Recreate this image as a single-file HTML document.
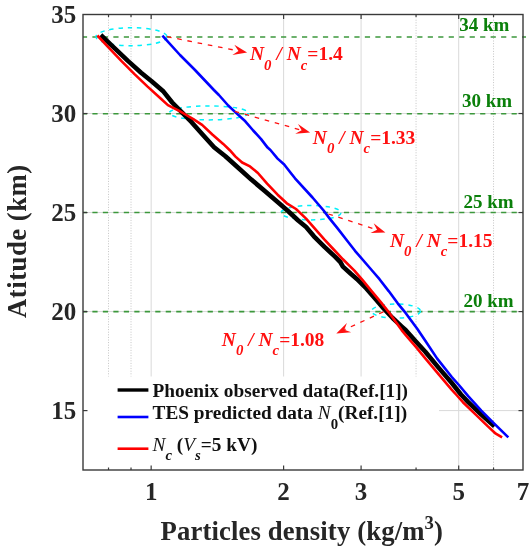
<!DOCTYPE html>
<html><head><meta charset="utf-8"><title>Particles density vs Altitude</title>
<style>
html,body{margin:0;padding:0;background:#fff;}
svg{display:block;font-family:"Liberation Serif","DejaVu Serif",serif;font-weight:bold;}
.tk{font-size:25px;fill:#262626;}
.ax{font-size:26.7px;fill:#262626;}
.g{font-size:19px;fill:#0b800b;}
.r{font-size:19.5px;fill:#ff1010;}
.lg{font-size:19.3px;fill:#111;}
.i{font-style:italic;}
.n{font-weight:normal;font-style:italic;}
.s{font-size:14.8px;}
#wrap{width:532px;height:553px;will-change:transform;overflow:hidden;}
</style></head><body>
<div id="wrap">
<svg width="532" height="553" viewBox="0 0 532 553">
<rect width="532" height="553" fill="#fff"/>

<g stroke="#d9d9d9" stroke-width="1" fill="none">
<line x1="151.16" y1="14.5" x2="151.16" y2="470.0"/>
<line x1="283.61" y1="14.5" x2="283.61" y2="470.0"/>
<line x1="361.09" y1="14.5" x2="361.09" y2="470.0"/>
<line x1="458.70" y1="14.5" x2="458.70" y2="470.0"/>
<line x1="83.0" y1="410.59" x2="523.0" y2="410.59"/>
<line x1="83.0" y1="311.57" x2="523.0" y2="311.57"/>
<line x1="83.0" y1="212.54" x2="523.0" y2="212.54"/>
<line x1="83.0" y1="113.52" x2="523.0" y2="113.52"/>
</g>
<g stroke="#c4c4c4" stroke-width="1" stroke-dasharray="1 1.6" fill="none">
<line x1="108.52" y1="14.5" x2="108.52" y2="470.0"/>
<line x1="131.02" y1="14.5" x2="131.02" y2="470.0"/>
<line x1="416.06" y1="14.5" x2="416.06" y2="470.0"/>
<line x1="493.54" y1="14.5" x2="493.54" y2="470.0"/>
</g>
<rect x="84" y="376.5" width="355" height="92.5" fill="#fff"/>
<g stroke="#3c983c" stroke-width="1.6" stroke-dasharray="5.2 5.28" stroke-dashoffset="1.1" fill="none">
<line x1="83.0" y1="37" x2="526" y2="37"/>
<line x1="83.0" y1="113.8" x2="523.0" y2="113.8"/>
<line x1="83.0" y1="212.5" x2="523.0" y2="212.5"/>
<line x1="83.0" y1="311.6" x2="523.0" y2="311.6"/>
</g>
<g stroke="#00f0fa" stroke-width="1.5" stroke-dasharray="4.4 4.8" fill="none">
<ellipse cx="131.5" cy="36.75" rx="35.5" ry="9"/>
<ellipse cx="208.8" cy="112.9" rx="39.5" ry="7"/>
<ellipse cx="311" cy="212.7" rx="30" ry="7.2"/>
<ellipse cx="396" cy="311.1" rx="24.5" ry="7.1"/>
</g>
<path d="M100.70,35.00 L114.50,48.10 L127.90,60.90 L141.10,72.80 L151.60,81.20 L163.50,91.60 L172.20,102.50 L181.20,111.70 L191.60,122.20 L202.10,134.10 L214.10,147.20 L225.40,156.20 L238.20,167.80 L251.30,179.60 L264.50,190.80 L277.60,202.00 L288.00,211.00 L298.20,220.50 L306.10,227.10 L313.90,236.30 L324.50,246.80 L335.00,256.70 L340.30,262.00 L342.90,266.60 L350.80,273.80 L357.10,279.20 L366.30,288.40 L375.50,298.90 L383.40,308.20 L392.60,318.00 L401.80,326.60 L405.60,330.00 L416.10,341.80 L425.30,351.70 L438.50,367.60 L451.60,382.80 L461.00,394.50 L468.20,402.10 L481.30,414.60 L494.50,426.40" stroke="#000" stroke-width="4.6" fill="none" stroke-linejoin="round"/>
<path d="M162.40,35.60 L180.00,55.00 L195.00,70.00 L213.90,90.00 L218.90,95.00 L228.20,105.50 L237.40,114.10 L245.30,121.30 L253.20,130.50 L261.10,139.10 L267.60,147.60 L270.40,150.00 L277.60,158.60 L284.20,164.50 L290.80,173.00 L295.00,178.30 L312.50,197.50 L323.20,210.00 L329.70,218.60 L337.60,228.40 L346.80,240.30 L355.00,250.80 L371.60,270.00 L379.50,279.20 L388.70,291.10 L397.90,303.60 L405.80,313.20 L410.00,319.00 L417.40,329.00 L425.30,340.80 L437.20,358.60 L451.60,376.80 L458.90,385.00 L468.20,396.20 L481.30,410.70 L494.50,423.80 L508.30,437.40" stroke="#0000ff" stroke-width="2.6" fill="none" stroke-linejoin="round"/>
<path d="M97.40,35.50 L108.20,47.10 L121.30,60.90 L134.50,74.10 L147.60,86.60 L160.40,98.20 L167.90,105.10 L173.20,107.80 L179.70,111.10 L186.30,115.00 L192.90,118.90 L202.10,124.90 L212.60,134.70 L223.20,143.90 L229.80,150.20 L235.50,156.60 L242.10,162.50 L250.00,166.40 L257.90,173.00 L267.10,183.60 L277.60,194.70 L286.80,203.30 L296.00,209.00 L306.10,218.60 L315.30,229.10 L324.50,239.60 L333.70,249.50 L342.90,259.30 L354.40,270.60 L362.40,279.90 L371.60,291.10 L380.80,302.20 L388.70,312.10 L395.30,321.30 L401.80,330.30 L408.30,338.20 L416.10,347.20 L425.30,358.40 L438.50,374.20 L451.60,389.60 L456.50,395.00 L462.90,402.20 L474.70,413.60 L487.90,426.40 L495.80,433.70 L502.10,437.40" stroke="#ff0000" stroke-width="2.6" fill="none" stroke-linejoin="round"/>
<line x1="167" y1="36.7" x2="238.47" y2="50.89" stroke="#ff1010" stroke-width="1.3" stroke-dasharray="4.6 5.8"/><polygon points="247.10,52.60 232.37,54.88 238.47,50.89 234.36,44.87" fill="#ff1010"/>
<line x1="234.7" y1="111.4" x2="301.63" y2="130.22" stroke="#ff1010" stroke-width="1.3" stroke-dasharray="4.6 5.8"/><polygon points="310.10,132.60 295.24,133.72 301.63,130.22 298.00,123.90" fill="#ff1010"/>
<line x1="328.4" y1="214" x2="377.03" y2="229.78" stroke="#ff1010" stroke-width="1.3" stroke-dasharray="4.6 5.8"/><polygon points="385.40,232.50 370.51,233.03 377.03,229.78 373.66,223.33" fill="#ff1010"/>
<line x1="383.4" y1="311.8" x2="344.30" y2="329.73" stroke="#ff1010" stroke-width="1.3" stroke-dasharray="4.6 5.8"/><polygon points="336.30,333.40 346.90,322.93 344.30,329.73 351.15,332.20" fill="#ff1010"/>
<rect x="83.0" y="14.5" width="440.0" height="455.5" fill="none" stroke="#3a3a3a" stroke-width="1.4"/>
<g stroke="#3a3a3a" stroke-width="1.2">
<line x1="151.16" y1="470.0" x2="151.16" y2="465.5"/><line x1="151.16" y1="14.5" x2="151.16" y2="19.0"/>
<line x1="283.61" y1="470.0" x2="283.61" y2="465.5"/><line x1="283.61" y1="14.5" x2="283.61" y2="19.0"/>
<line x1="361.09" y1="470.0" x2="361.09" y2="465.5"/><line x1="361.09" y1="14.5" x2="361.09" y2="19.0"/>
<line x1="458.70" y1="470.0" x2="458.70" y2="465.5"/><line x1="458.70" y1="14.5" x2="458.70" y2="19.0"/>
<line x1="108.52" y1="470.0" x2="108.52" y2="467.5"/><line x1="108.52" y1="14.5" x2="108.52" y2="17.0"/>
<line x1="131.02" y1="470.0" x2="131.02" y2="467.5"/><line x1="131.02" y1="14.5" x2="131.02" y2="17.0"/>
<line x1="416.06" y1="470.0" x2="416.06" y2="467.5"/><line x1="416.06" y1="14.5" x2="416.06" y2="17.0"/>
<line x1="493.54" y1="470.0" x2="493.54" y2="467.5"/><line x1="493.54" y1="14.5" x2="493.54" y2="17.0"/>
<line x1="83.0" y1="410.59" x2="87.5" y2="410.59"/><line x1="523.0" y1="410.59" x2="518.5" y2="410.59"/>
<line x1="83.0" y1="311.57" x2="87.5" y2="311.57"/><line x1="523.0" y1="311.57" x2="518.5" y2="311.57"/>
<line x1="83.0" y1="212.54" x2="87.5" y2="212.54"/><line x1="523.0" y1="212.54" x2="518.5" y2="212.54"/>
<line x1="83.0" y1="113.52" x2="87.5" y2="113.52"/><line x1="523.0" y1="113.52" x2="518.5" y2="113.52"/>
</g>
<text class="tk" x="76.2" y="23.10" text-anchor="end">35</text>
<text class="tk" x="76.2" y="122.12" text-anchor="end">30</text>
<text class="tk" x="76.2" y="221.14" text-anchor="end">25</text>
<text class="tk" x="76.2" y="320.17" text-anchor="end">20</text>
<text class="tk" x="76.2" y="419.19" text-anchor="end">15</text>
<text class="tk" x="151.16" y="500.2" text-anchor="middle">1</text>
<text class="tk" x="283.61" y="500.2" text-anchor="middle">2</text>
<text class="tk" x="361.09" y="500.2" text-anchor="middle">3</text>
<text class="tk" x="458.70" y="500.2" text-anchor="middle">5</text>
<text class="tk" x="523.00" y="500.2" text-anchor="middle">7</text>
<text class="ax" x="301.8" y="539.6" text-anchor="middle" letter-spacing="0.14">Particles density (kg/m<tspan font-size="18.7px" dy="-10.5">3</tspan><tspan dy="10.5">)</tspan></text>
<text class="ax" style="font-size:26.7px" transform="translate(25.8,241.4) rotate(-90)" text-anchor="middle" textLength="153.2" lengthAdjust="spacing">Atitude (km)</text>
<text class="g" x="459.3" y="31.3">34 km</text>
<text class="g" x="462" y="106.6">30 km</text>
<text class="g" x="463.4" y="208.2">25 km</text>
<text class="g" x="463.4" y="307">20 km</text>
<text class="r" x="250" y="60.3"><tspan class="i">N</tspan><tspan class="i s" dy="9.4">0</tspan><tspan class="i" dy="-9.4"> / N</tspan><tspan class="i s" dy="9.4">c</tspan><tspan dy="-9.4">=1.4</tspan></text>
<text class="r" x="312.8" y="143.8"><tspan class="i">N</tspan><tspan class="i s" dy="9.4">0</tspan><tspan class="i" dy="-9.4"> / N</tspan><tspan class="i s" dy="9.4">c</tspan><tspan dy="-9.4">=1.33</tspan></text>
<text class="r" x="390" y="246.6"><tspan class="i">N</tspan><tspan class="i s" dy="9.4">0</tspan><tspan class="i" dy="-9.4"> / N</tspan><tspan class="i s" dy="9.4">c</tspan><tspan dy="-9.4">=1.15</tspan></text>
<text class="r" x="221.8" y="345.7"><tspan class="i">N</tspan><tspan class="i s" dy="9.4">0</tspan><tspan class="i" dy="-9.4"> / N</tspan><tspan class="i s" dy="9.4">c</tspan><tspan dy="-9.4">=1.08</tspan></text>
<line x1="117.6" y1="390" x2="148.4" y2="390" stroke="#000" stroke-width="3.4"/>
<line x1="117.6" y1="417" x2="148.4" y2="417" stroke="#0000ff" stroke-width="2.6"/>
<line x1="117.6" y1="448.7" x2="148.4" y2="448.7" stroke="#ff0000" stroke-width="2.6"/>
<text class="lg" x="152.6" y="397.2">Phoenix observed data(Ref.[1])</text>
<text class="lg" x="152.6" y="419.4">TES predicted data <tspan class="n">N</tspan><tspan class="s" dy="9.4">0</tspan><tspan dy="-9.4">(Ref.[1])</tspan></text>
<text class="lg" x="152.6" y="451"><tspan class="n">N</tspan><tspan class="i s" dy="9.4">c</tspan><tspan dy="-9.4"> (</tspan><tspan class="n">V</tspan><tspan class="i s" dy="9.4">s</tspan><tspan dy="-9.4">=5 kV)</tspan></text>
</svg>
</div></body></html>
